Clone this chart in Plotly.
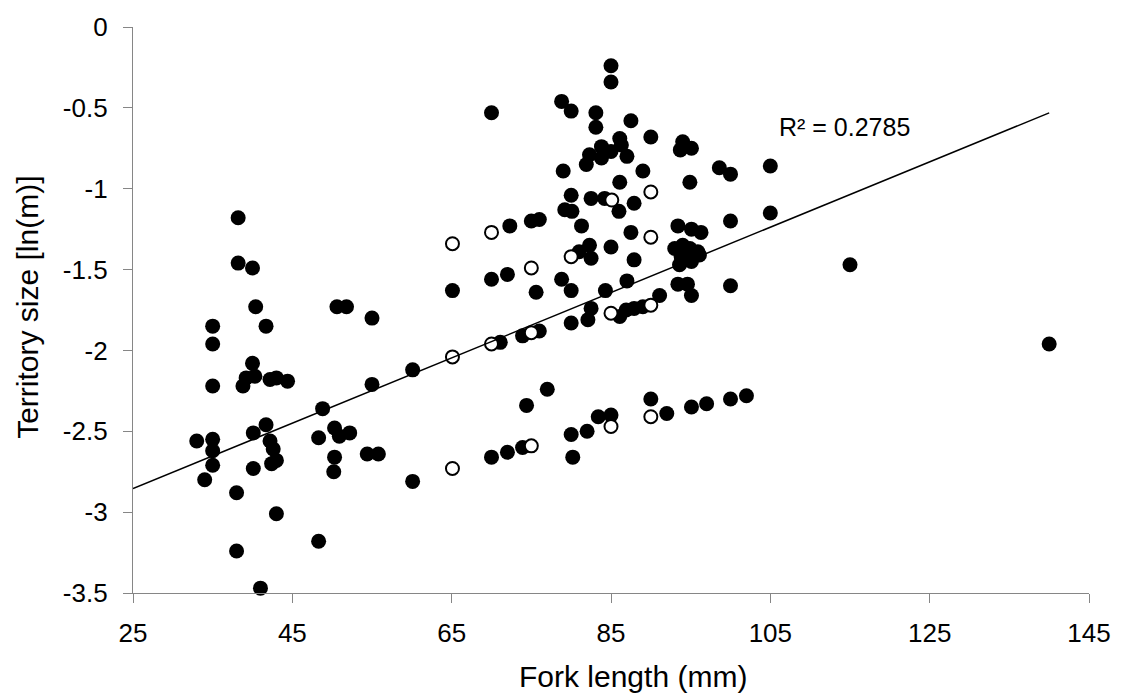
import numpy as np
import plotly.graph_objects as go

# Filled points: fork length (mm), territory size ln(m)
filled_x = [33.0, 34.0, 35.0, 35.0, 35.0, 35.0, 35.0, 35.0, 38.2, 38.2, 38.0, 38.0, 38.8, 39.2,
            40.0, 40.0, 40.3, 40.1, 40.1, 40.4, 41.0, 41.7, 41.7, 42.2, 42.2, 42.6, 43.0, 43.0,
            42.4, 43.0, 44.4, 48.8, 48.3, 48.3, 50.3, 50.9, 52.2, 50.3, 50.2, 50.6, 51.8, 54.4,
            55.8, 55.0, 55.0, 60.1, 60.1, 65.1, 70.0, 70.0, 72.0, 72.3, 75.0, 76.0, 71.1, 73.9,
            76.0, 70.0, 72.0, 73.9, 74.4, 77.0, 75.6, 78.8, 80.0, 80.0, 81.0, 80.0, 80.2, 82.0,
            83.4, 85.0, 90.0, 92.0, 95.1, 97.0, 100.0, 102.0, 85.0, 85.0, 78.8, 80.0, 83.1, 83.1,
            87.5, 90.0, 94.0, 93.7, 95.1, 86.1, 83.8, 82.3, 85.0, 83.8, 86.3, 87.0, 81.9, 79.0,
            89.0, 86.1, 94.9, 98.6, 100.0, 105.0, 80.0, 82.5, 84.2, 87.9, 86.0, 79.2, 80.1, 81.3,
            87.5, 93.4, 95.1, 96.3, 100.0, 105.0, 82.3, 82.5, 85.0, 87.9, 93.0, 94.0, 94.9, 95.9,
            93.8, 94.6, 93.6, 95.1, 96.1, 84.3, 87.0, 93.4, 94.6, 95.1, 100.0, 82.5, 82.1, 86.1,
            86.9, 87.9, 89.0, 91.1, 115.0, 140.0]
filled_y = [-2.56, -2.80, -1.85, -1.96, -2.22, -2.55, -2.62, -2.71, -1.18, -1.46, -2.88, -3.24,
            -2.22, -2.17, -1.49, -2.08, -2.16, -2.51, -2.73, -1.73, -3.47, -1.85, -2.46, -2.18,
            -2.56, -2.61, -2.17, -2.68, -2.70, -3.01, -2.19, -2.36, -2.54, -3.18, -2.48, -2.53,
            -2.51, -2.66, -2.75, -1.73, -1.73, -2.64, -2.64, -1.80, -2.21, -2.12, -2.81, -1.63,
            -0.53, -1.56, -1.53, -1.23, -1.20, -1.19, -1.95, -1.91, -1.88, -2.66, -2.63, -2.60,
            -2.34, -2.24, -1.64, -1.56, -1.63, -1.83, -1.39, -2.52, -2.66, -2.50, -2.41, -2.40,
            -2.30, -2.39, -2.35, -2.33, -2.30, -2.28, -0.24, -0.34, -0.46, -0.52, -0.53, -0.62,
            -0.58, -0.68, -0.71, -0.76, -0.75, -0.69, -0.74, -0.79, -0.77, -0.81, -0.73, -0.80,
            -0.85, -0.89, -0.89, -0.96, -0.96, -0.87, -0.91, -0.86, -1.04, -1.06, -1.06, -1.09,
            -1.14, -1.13, -1.14, -1.23, -1.27, -1.23, -1.25, -1.27, -1.20, -1.15, -1.35, -1.43,
            -1.36, -1.44, -1.37, -1.35, -1.37, -1.39, -1.42, -1.44, -1.47, -1.45, -1.41, -1.63,
            -1.57, -1.59, -1.59, -1.66, -1.60, -1.74, -1.81, -1.79, -1.75, -1.74, -1.73, -1.66,
            -1.47, -1.96]

# Open (hollow) points
open_x = [65.1, 65.1, 65.1, 70.0, 70.0, 75.0, 75.0, 75.0, 80.0, 85.1, 85.0, 85.0, 90.0, 90.0, 90.0, 90.0]
open_y = [-1.34, -2.04, -2.73, -1.27, -1.96, -1.49, -1.89, -2.59, -1.42, -1.07, -1.77, -2.47,
          -1.02, -1.30, -1.72, -2.41]

x_tick_vals = [25, 45, 65, 85, 105, 125, 145]
x_tick_text = ["25", "45", "65", "85", "105", "125", "145"]
y_tick_vals = [0, -0.5, -1, -1.5, -2, -2.5, -3, -3.5]
y_tick_text = ["0", "-0.5", "-1", "-1.5", "-2", "-2.5", "-3", "-3.5"]

# Linear trendline (coefficients), drawn over this x span
trend_slope = 0.0202
trend_intercept = -3.359
trend_x_range = [25, 140]
r2_label = "R² = 0.2785"
x_title = "Fork length (mm)"
y_title = "Territory size [ln(m)]"

tx = np.array(trend_x_range, dtype=float)
ty = trend_slope * tx + trend_intercept

FONT = "Arial, 'Liberation Sans', sans-serif"
AXIS_GRAY = "#868686"

fig = go.Figure()
fig.add_trace(go.Scatter(
    x=filled_x, y=filled_y, mode="markers",
    marker=dict(size=15, color="black", line=dict(width=0)),
    cliponaxis=False, showlegend=False))
fig.add_trace(go.Scatter(
    x=open_x, y=open_y, mode="markers",
    marker=dict(size=13, color="white", line=dict(width=2, color="black")),
    cliponaxis=False, showlegend=False))
fig.add_trace(go.Scatter(
    x=tx, y=ty, mode="lines",
    line=dict(color="black", width=1.5),
    cliponaxis=False, showlegend=False))

fig.update_layout(
    width=1123, height=698,
    margin=dict(l=133, r=33, t=22, b=105),
    paper_bgcolor="white", plot_bgcolor="white",
    font=dict(family=FONT, color="black"),
    xaxis=dict(range=[25, 145], tickvals=x_tick_vals, ticktext=x_tick_text,
               showgrid=False, zeroline=False, showline=True, linecolor=AXIS_GRAY, linewidth=1.3,
               ticks="outside", ticklen=9, tickcolor=AXIS_GRAY, tickwidth=1.3,
               tickfont=dict(size=26, family=FONT, color="black"), ticklabelstandoff=8),
    yaxis=dict(range=[-3.5, 0], tickvals=y_tick_vals, ticktext=y_tick_text,
               showgrid=False, zeroline=False, showline=True, linecolor=AXIS_GRAY, linewidth=1.3,
               ticks="outside", ticklen=9, tickcolor=AXIS_GRAY, tickwidth=1.3,
               tickfont=dict(size=26, family=FONT, color="black"), ticklabelstandoff=10),
    annotations=[
        dict(text=x_title, xref="paper", yref="paper", x=0.5225, y=-0.147,
             xanchor="center", yanchor="middle", showarrow=False,
             font=dict(size=30, family=FONT, color="black")),
        dict(text=y_title, xref="paper", yref="paper", x=-0.1097, y=0.504,
             xanchor="center", yanchor="middle", textangle=-90, showarrow=False,
             font=dict(size=30, family=FONT, color="black")),
        dict(text=r2_label, xref="paper", yref="paper", x=(778 - 133) / 957, y=(593 - 123) / 571,
             xanchor="left", yanchor="middle", showarrow=False,
             font=dict(size=25, family=FONT, color="black")),
    ],
)

fig.write_html("out.html")
